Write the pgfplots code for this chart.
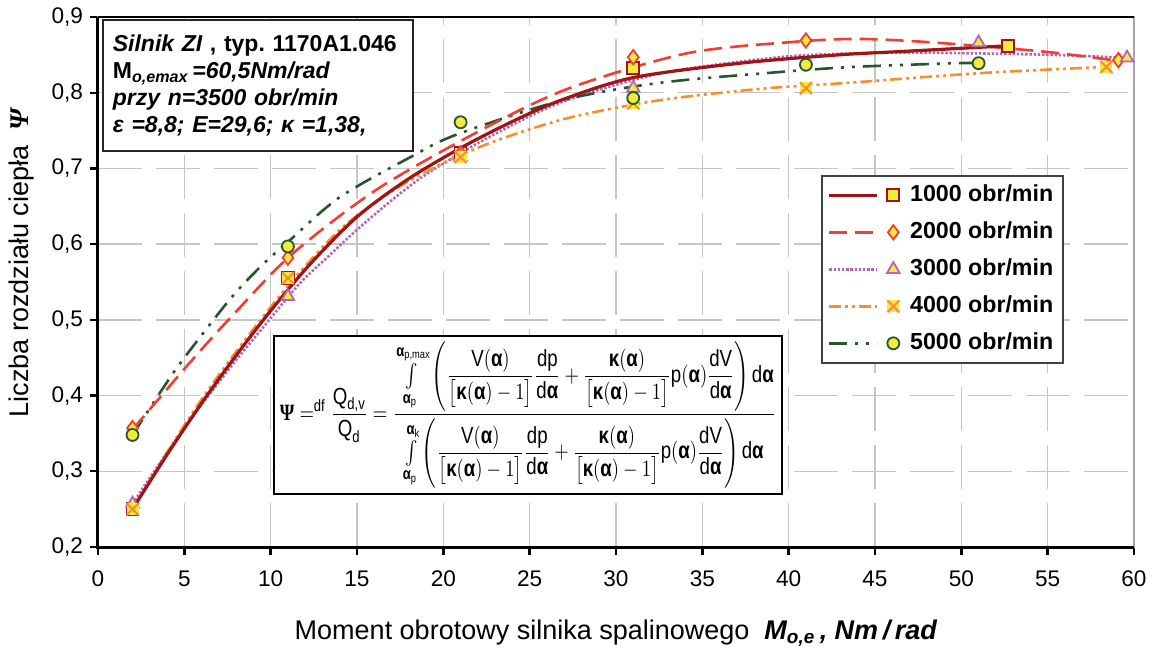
\documentclass[border=0pt]{standalone}
\usepackage{fontspec}
\setmainfont{Liberation Sans}
\newfontfamily\serifgr{Liberation Serif}
\usepackage{amsmath}
\usepackage{graphicx}
\usepackage{pgfplots}
\pgfplotsset{compat=1.18}

\definecolor{cA}{RGB}{160,20,20}
\definecolor{cB}{RGB}{245,60,50}
\definecolor{cC}{RGB}{180,100,190}
\definecolor{cD}{RGB}{250,140,50}
\definecolor{cE}{RGB}{40,85,45}
\definecolor{myyellow}{RGB}{240,235,60}

% yellow square with an orange cross (4000 obr/min)
\pgfdeclareplotmark{xsq}{%
  \pgfpathrectangle{\pgfpoint{-\pgfplotmarksize}{-\pgfplotmarksize}}{\pgfpoint{2\pgfplotmarksize}{2\pgfplotmarksize}}%
  \pgfsetfillcolor{myyellow}\pgfusepath{fill}%
  \pgfpathmoveto{\pgfpoint{-\pgfplotmarksize}{-\pgfplotmarksize}}%
  \pgfpathlineto{\pgfpoint{\pgfplotmarksize}{\pgfplotmarksize}}%
  \pgfpathmoveto{\pgfpoint{-\pgfplotmarksize}{\pgfplotmarksize}}%
  \pgfpathlineto{\pgfpoint{\pgfplotmarksize}{-\pgfplotmarksize}}%
  \pgfusepath{stroke}}

\tikzset{
  sA/.style={cA, line width=1.6pt, solid},
  sB/.style={cB, line width=1.3pt, dash pattern=on 9pt off 4pt},
  sC/.style={cC, line width=1.3pt, dash pattern=on 1.2pt off 0.9pt},
  sD/.style={cD, line width=1.3pt, dash pattern=on 6pt off 2pt on 1.5pt off 2pt on 1.5pt off 2pt},
  sE/.style={cE, line width=1.3pt, dash pattern=on 9pt off 4pt on 1.5pt off 4pt on 1.5pt off 4pt},
}
\pgfplotsset{
  leg/.style={legend image code/.code={%
    \draw[#1] (0pt,0pt) -- (24pt,0pt);
    \draw[##1] plot coordinates {(32pt,0pt)};
    \path (38pt,0pt);}},
}

\newcommand{\ba}{\text{\bfseries α}}
\newcommand{\bk}{\text{\bfseries κ}}
\newcommand{\brk}{\bigl[\bk(\ba)-1\bigr]}
\newcommand{\inner}{\left(\dfrac{\text{V}(\ba)}{\brk}\dfrac{\text{dp}}{\text{d}\ba}+\dfrac{\bk(\ba)}{\brk}\text{p}(\ba)\dfrac{\text{dV}}{\text{d}\ba}\right)\text{d}\ba}

\begin{document}
\begin{tikzpicture}
\path[use as bounding box] (-49pt,-51.5pt) rectangle (527.5pt,273.5pt);
\begin{axis}[
  at={(0,0)}, anchor=south west,
  scale only axis, width=518pt, height=265pt,
  xmin=0, xmax=60, ymin=0.2, ymax=0.9,
  xtick={0,5,10,15,20,25,30,35,40,45,50,55,60},
  ytick={0.2,0.3,0.4,0.5,0.6,0.7,0.8,0.9},
  xtick pos=left, ytick pos=left,
  tick align=outside, major tick length=4pt,
  tick style={black, line width=1.2pt},
  grid=major,
  major grid style={draw=gray!45, line width=0.7pt, dash pattern=on 22pt off 7pt},
  axis line style={draw=gray!70, line width=0.8pt},
  clip=false,
  ticklabel style={font=\fontsize{11.3}{13}\selectfont},
  /pgf/number format/assume math mode=true,
  xticklabel style={yshift=-4.5pt},
  yticklabel style={/pgf/number format/.cd, fixed, fixed zerofill, precision=1, use comma},
  xlabel={Moment obrotowy silnika spalinowego\ \ \textbf{\textit{M\textsubscript{o,e}\,, Nm\,/\,rad}}},
  xlabel style={at={(axis description cs:0.5,-0.162)}, anchor=center, font=\fontsize{13.5}{16}\selectfont},
  ylabel={Liczba rozdziału ciepła\ \ {\serifgr\bfseries\itshape Ψ}},
  ylabel style={at={(axis description cs:-0.0734,0.536)}, anchor=center, font=\fontsize{13.5}{16}\selectfont},
  legend style={at={(axis cs:41.87,0.6913)}, anchor=north west, draw=black!75, line width=0.8pt,
    fill=white, font=\bfseries\fontsize{11.6}{13}\selectfont, inner xsep=3pt, inner ysep=2pt,
    row sep=3pt, column sep=0pt, nodes={inner sep=2pt, text height=9pt, text depth=2.5pt}},
  legend cell align=left,
]
% trend curves
\addplot[sC, smooth, forget plot] coordinates {(2,0.257) (4,0.325) (6,0.388) (8,0.447) (9.2,0.48) (11.6,0.546) (13.3,0.583) (15,0.619) (16.9,0.656) (18.6,0.686) (20.4,0.712) (22.7,0.742) (26.9,0.788) (32.7,0.826) (39.5,0.847) (43.9,0.852) (47.6,0.853) (55.3,0.85) (59.5,0.846)};
\addplot[sD, smooth, forget plot] coordinates {(2,0.25) (4,0.325) (6,0.395) (8,0.458) (10,0.517) (11.8,0.566) (14.2,0.623) (17.1,0.671) (20,0.707) (23.1,0.737) (27.3,0.767) (32.5,0.79) (38.3,0.805) (43.4,0.813) (51.2,0.826) (58.3,0.834)};
\addplot[sE, smooth, forget plot] coordinates {(2,0.348) (3.8,0.411) (4.9,0.447) (7.6,0.526) (9.4,0.57) (11.1,0.605) (14,0.662) (18.1,0.715) (20.8,0.745) (26.9,0.79) (32.5,0.813) (39.3,0.827) (43.7,0.834) (49.7,0.839) (51,0.839)};
\addplot[sB, smooth, forget plot] coordinates {(2,0.355) (5.3,0.443) (8,0.511) (11.3,0.588) (16.2,0.673) (22.3,0.752) (27.3,0.806) (34.1,0.852) (40.2,0.867) (44.1,0.871) (48.6,0.866) (54.9,0.854) (59.1,0.842)};
\addplot[sA, smooth, forget plot] coordinates {(2,0.25) (4,0.322) (6,0.39) (8,0.453) (10,0.512) (12.3,0.574) (15,0.636) (17.9,0.685) (21,0.727) (24,0.762) (26.8,0.79) (31,0.82) (37.2,0.839) (42.9,0.85) (47,0.855) (52.7,0.862)};
% measured points
\addplot[only marks, mark=square*, mark size=3pt, mark options={solid, fill=myyellow, draw=cA, line width=0.9pt}, leg=sA]
  coordinates {(2,0.25) (11,0.555) (21,0.72) (31,0.833) (52.7,0.862)};
\addlegendentry{1000 obr/min}
\addplot[only marks, mark=diamond*, mark size=3.6pt, mark options={solid, fill=myyellow, draw=cB, line width=0.9pt}, leg=sB]
  coordinates {(2,0.357) (11,0.582) (21,0.72) (31,0.847) (41,0.869) (59.1,0.843)};
\addlegendentry{2000 obr/min}
\addplot[only marks, mark=triangle*, mark size=3.6pt, mark options={solid, fill=myyellow, draw=cC, line width=0.9pt}, leg=sC]
  coordinates {(2,0.257) (11,0.531) (21,0.715) (31,0.806) (51,0.866) (59.6,0.846)};
\addlegendentry{3000 obr/min}
\addplot[only marks, mark=xsq, mark size=3pt, mark options={solid, draw=cD, line width=1pt}, leg=sD]
  coordinates {(2,0.25) (11,0.555) (21,0.715) (31,0.786) (41,0.806) (58.4,0.834)};
\addlegendentry{4000 obr/min}
\addplot[only marks, mark=*, mark size=3pt, mark options={solid, fill=myyellow, draw=cE, line width=0.9pt}, leg=sE]
  coordinates {(2,0.348) (11,0.597) (21,0.761) (31,0.793) (41,0.837) (51,0.839)};
\addlegendentry{5000 obr/min}

% heavy left and bottom axis lines
\draw[black, line width=0.8pt] (rel axis cs:0,1) -- (rel axis cs:1,1);
\draw[black, line width=1.5pt] (rel axis cs:0,1) -- (rel axis cs:0,0) -- (rel axis cs:1,0);

\node[draw=black!85, line width=0.9pt, fill=white, anchor=north west, inner xsep=5pt, inner ysep=0pt,
  minimum height=65.5pt, text width=145pt, align=left, font=\bfseries\fontsize{11.5}{13.5}\selectfont]
  at (axis cs:0.23,0.897)
  {{\itshape Silnik ZI} , typ.\ 1170A1.046\\
   M\textsubscript{\itshape o,emax}{\itshape\,=60,5Nm/rad}\\
   {\itshape przy n=3500 obr/min}\\
   {\itshape ε =8,8; E=29,6; κ =1,38,}};

\node[draw=black, line width=0.9pt, fill=white, anchor=north west, inner sep=3pt, font=\fontsize{11}{13}\selectfont]
  at (axis cs:10.13,0.48)
  {\resizebox*{248pt}{73pt}{$\displaystyle \text{\serifgr\bfseries Ψ}=^{\text{df}}\dfrac{\text{Q}_{\text{d,v}}}{\text{Q}_{\text{d}}}=\dfrac{\int\limits_{\ba_{\text{p}}}^{\ba_{\text{p,max}}}\inner}{\int\limits_{\ba_{\text{p}}}^{\ba_{\text{k}}}\inner}$}};
\end{axis}
\end{tikzpicture}
\end{document}
